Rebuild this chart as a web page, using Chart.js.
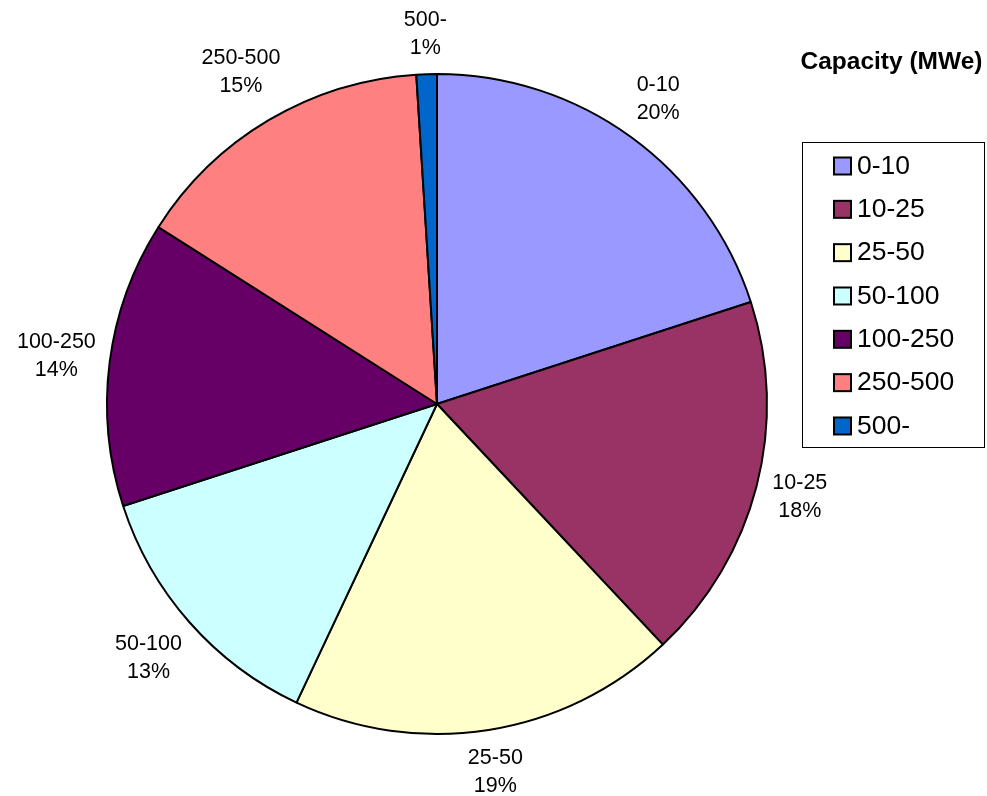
<!DOCTYPE html>
<html>
<head>
<meta charset="utf-8">
<script src="https://cdn.jsdelivr.net/npm/chart.js@4/dist/chart.umd.min.js"></script>
<style>
  body { margin: 0; background: #fff; }
  #wrap { width: 987px; height: 796px; }
</style>
</head>
<body>
<div id="wrap"><canvas id="myChart" width="987" height="796"></canvas></div>
<script>
var categorias = ['0-10', '10-25', '25-50', '50-100', '100-250', '250-500', '500-'];
var porcentajes = [20, 18, 19, 13, 14, 15, 1];
var colores = ['#9999FF', '#993366', '#FFFFCC', '#CCFFFF', '#660066', '#FF8080', '#0066CC'];
var titulo = 'Capacity (MWe)';

var fuente = 'Arial, "Liberation Sans", sans-serif';

// etiquetas de cada sector, fuera del círculo, sin líneas guía
var etiquetasPlugin = {
  id: 'etiquetas',
  afterDatasetsDraw: function(chart) {
    var ctx = chart.ctx;
    var meta = chart.getDatasetMeta(0);
    var total = porcentajes.reduce(function(a, b) { return a + b; }, 0);
    ctx.save();
    ctx.font = '21.5px ' + fuente;
    ctx.fillStyle = '#000';
    ctx.textAlign = 'center';
    ctx.textBaseline = 'middle';
    meta.data.forEach(function(arc, i) {
      var p = arc.getProps(['x', 'y', 'startAngle', 'endAngle', 'outerRadius'], true);
      var medio = (p.startAngle + p.endAngle) / 2;
      var ux = Math.cos(medio), uy = Math.sin(medio);
      var linea1 = categorias[i];
      var linea2 = Math.round(porcentajes[i] / total * 100) + '%';
      var w = Math.max(ctx.measureText(linea1).width, ctx.measureText(linea2).width);
      var h = 56;
      var ext = Math.abs(ux) * w / 2 + Math.abs(uy) * h / 2;
      var d = p.outerRadius + 11 + ext;
      var cx = p.x + ux * d, cy = p.y + uy * d;
      ctx.fillText(linea1, cx, cy - 14);
      ctx.fillText(linea2, cx, cy + 14);
    });
    ctx.restore();
  },
  afterDraw: function(chart) {
    var ctx = chart.ctx;
    ctx.save();
    // título
    ctx.font = 'bold 24.5px ' + fuente;
    ctx.fillStyle = '#000';
    ctx.textAlign = 'center';
    ctx.textBaseline = 'middle';
    ctx.fillText(titulo, 891.5, 62);

    // leyenda con marco
    ctx.strokeStyle = '#000';
    ctx.lineWidth = 1;
    ctx.strokeRect(802.5, 142.5, 182, 305);
    ctx.font = '26.5px ' + fuente;
    ctx.textAlign = 'left';
    categorias.forEach(function(cat, i) {
      var y = 165.5 + i * 43.33;
      ctx.fillStyle = colores[i];
      ctx.fillRect(834, y - 8, 17, 17);
      ctx.lineWidth = 2;
      ctx.strokeRect(834, y - 8, 17, 17);
      ctx.fillStyle = '#000';
      ctx.fillText(cat, 857, y + 1);
    });
    ctx.restore();
  }
};

var ctx = document.getElementById('myChart').getContext('2d');
var myChart = new Chart(ctx, {
  type: 'pie',
  data: {
    labels: categorias,
    datasets: [{
      data: porcentajes,
      backgroundColor: colores,
      borderColor: '#000',
      borderWidth: 2,
      borderAlign: 'center'
    }]
  },
  options: {
    responsive: false,
    animation: false,
    devicePixelRatio: 1,
    layout: { padding: { top: 73, bottom: 61, left: 106, right: 219 } },
    plugins: {
      legend: { display: false },
      tooltip: { enabled: false }
    }
  },
  plugins: [etiquetasPlugin]
});
</script>
</body>
</html>
